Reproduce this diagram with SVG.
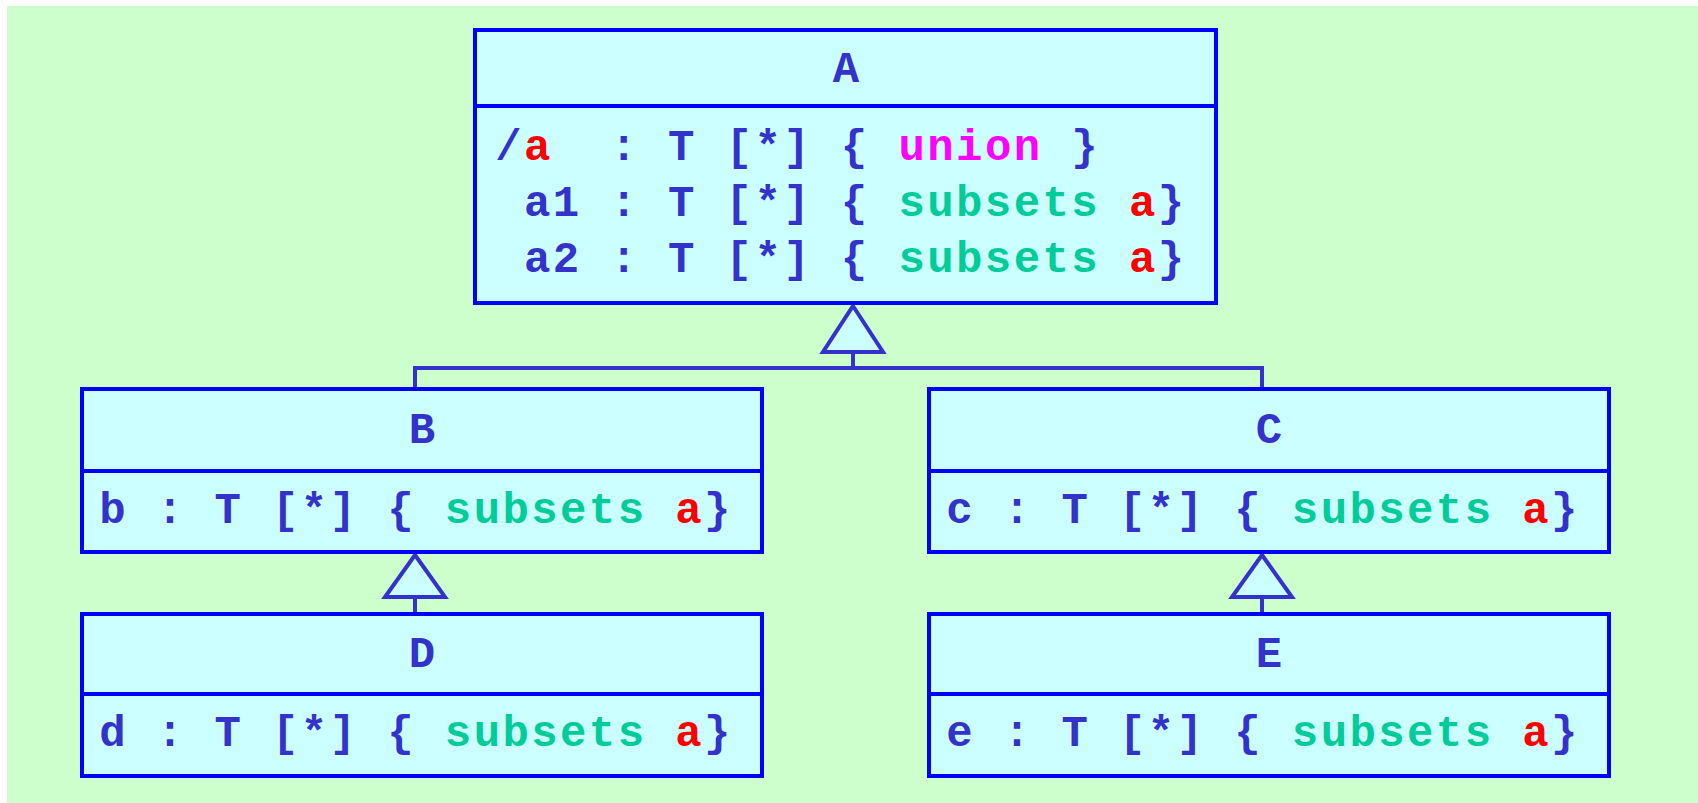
<svg xmlns="http://www.w3.org/2000/svg" width="1698" height="803" viewBox="0 0 1698 803">
<style>
.box{fill:#ccffff;stroke:#0000ff;stroke-width:4}
.div{stroke:#0000ff;stroke-width:4}
.t{font-family:"Liberation Mono","Courier New",monospace;font-weight:bold;font-size:44px;letter-spacing:2.4px;fill:#3333cc;white-space:pre}
.h{font-family:"Liberation Mono","Courier New",monospace;font-weight:bold;font-size:44px;fill:#3333cc;text-anchor:middle}
.r{fill:#ff0000}
.g{fill:#00cc99}
.m{fill:#ff00ff}
.con{fill:none;stroke:#3333cc;stroke-width:4}
.tri{fill:#ccffff;stroke:#3333cc;stroke-width:4;stroke-linejoin:miter}
</style>
<rect x="7" y="6" width="1691" height="797" fill="#ccffcc"/>
<g id="connectors">
<path class="con" d="M853 352 V368 M415 389 V368 H1262 V389"/>
<polygon class="tri" points="853,306 883,352 823,352"/>
<path class="con" d="M415 597 V614"/>
<polygon class="tri" points="415,555 445,597 385,597"/>
<path class="con" d="M1262 597 V614"/>
<polygon class="tri" points="1262,555 1292,597 1232,597"/>
</g>
<g id="A">
<rect class="box" x="475" y="30" width="741" height="273"/>
<line class="div" x1="475" y1="106" x2="1216" y2="106"/>
<text class="h" x="846" y="82">A</text>
<text class="t" x="495.2" y="160" xml:space="preserve">/<tspan class="r">a</tspan>  : T [*] { <tspan class="m">union</tspan> }</text>
<text class="t" x="495.2" y="216" xml:space="preserve"> a1 : T [*] { <tspan class="g">subsets</tspan> <tspan class="r">a</tspan>}</text>
<text class="t" x="495.2" y="272" xml:space="preserve"> a2 : T [*] { <tspan class="g">subsets</tspan> <tspan class="r">a</tspan>}</text>
</g>
<g id="B">
<rect class="box" x="82" y="389" width="680" height="163"/>
<line class="div" x1="82" y1="471" x2="762" y2="471"/>
<text class="h" x="422" y="443">B</text>
<text class="t" x="99.2" y="523" xml:space="preserve">b : T [*] { <tspan class="g">subsets</tspan> <tspan class="r">a</tspan>}</text>
</g>
<g id="C">
<rect class="box" x="929" y="389" width="680" height="163"/>
<line class="div" x1="929" y1="471" x2="1609" y2="471"/>
<text class="h" x="1269" y="443">C</text>
<text class="t" x="946.2" y="523" xml:space="preserve">c : T [*] { <tspan class="g">subsets</tspan> <tspan class="r">a</tspan>}</text>
</g>
<g id="D">
<rect class="box" x="82" y="614" width="680" height="162"/>
<line class="div" x1="82" y1="694" x2="762" y2="694"/>
<text class="h" x="422" y="667">D</text>
<text class="t" x="99.2" y="746" xml:space="preserve">d : T [*] { <tspan class="g">subsets</tspan> <tspan class="r">a</tspan>}</text>
</g>
<g id="E">
<rect class="box" x="929" y="614" width="680" height="162"/>
<line class="div" x1="929" y1="694" x2="1609" y2="694"/>
<text class="h" x="1269" y="667">E</text>
<text class="t" x="946.2" y="746" xml:space="preserve">e : T [*] { <tspan class="g">subsets</tspan> <tspan class="r">a</tspan>}</text>
</g>
</svg>
